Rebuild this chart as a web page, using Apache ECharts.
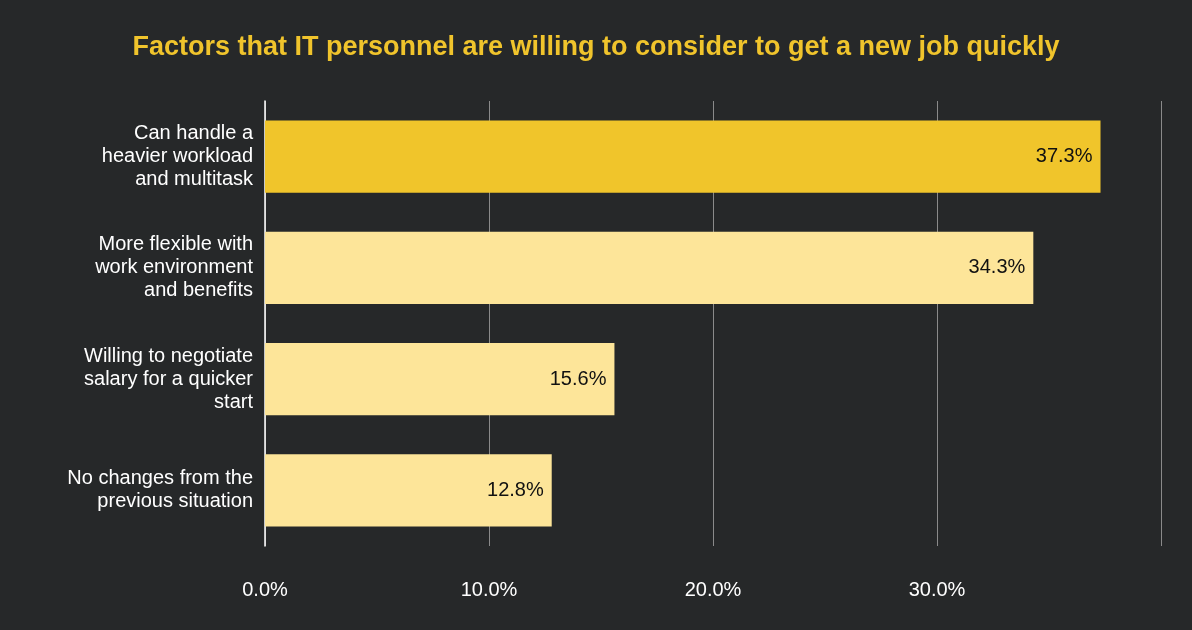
<!DOCTYPE html>
<html>
<head>
<meta charset="utf-8">
<script src="https://cdn.jsdelivr.net/npm/echarts@6/dist/echarts.min.js"></script>
<style>
html,body{margin:0;padding:0;background:#262829;}
#main{width:1192px;height:630px;}
</style>
</head>
<body>
<div id="main"></div>
<script>
const categories = [
    'Can handle a\nheavier workload\nand multitask',
    'More flexible with\nwork environment\nand benefits',
    'Willing to negotiate\nsalary for a quicker\nstart',
    'No changes from the\nprevious situation'
];
const values = [37.3, 34.3, 15.6, 12.8];
const barColors = ['#f0c52b', '#fde599', '#fde599', '#fde599'];

const font = 'Liberation Sans, Arial, sans-serif';
const chart = echarts.init(document.getElementById('main'));
chart.setOption({
    backgroundColor: '#262829',
    animation: false,
    title: {
        text: 'Factors that IT personnel are willing to consider to get a new job quickly',
        left: 'center',
        top: 29,
        textStyle: { color: '#f0c42c', fontSize: 27, fontWeight: 'bold', fontFamily: font }
    },
    grid: { left: 265, right: 31, top: 101, bottom: 84 },
    xAxis: {
        type: 'value',
        min: 0,
        max: 40,
        interval: 10,
        axisLine: { show: false },
        axisTick: { show: false },
        splitLine: { lineStyle: { color: '#8a8a8a', width: 1 } },
        axisLabel: {
            color: '#ffffff',
            fontSize: 20,
            fontFamily: font,
            margin: 34,
            formatter: v => (v >= 40 ? '' : v.toFixed(1) + '%')
        }
    },
    yAxis: {
        type: 'category',
        inverse: true,
        data: categories,
        axisLine: { show: true, lineStyle: { color: '#ffffff', width: 1.5 } },
        axisTick: { show: false },
        axisLabel: {
            color: '#ffffff',
            fontSize: 20,
            fontFamily: font,
            lineHeight: 23,
            margin: 12,
            align: 'right'
        }
    },
    series: [{
        type: 'bar',
        barWidth: '65%',
        data: values.map((v, i) => ({ value: v, itemStyle: { color: barColors[i] } })),
        label: {
            show: true,
            position: 'insideRight',
            color: '#111111',
            fontSize: 20,
            fontFamily: font,
            distance: 8,
            formatter: p => p.value.toFixed(1) + '%'
        }
    }]
});
</script>
</body>
</html>
